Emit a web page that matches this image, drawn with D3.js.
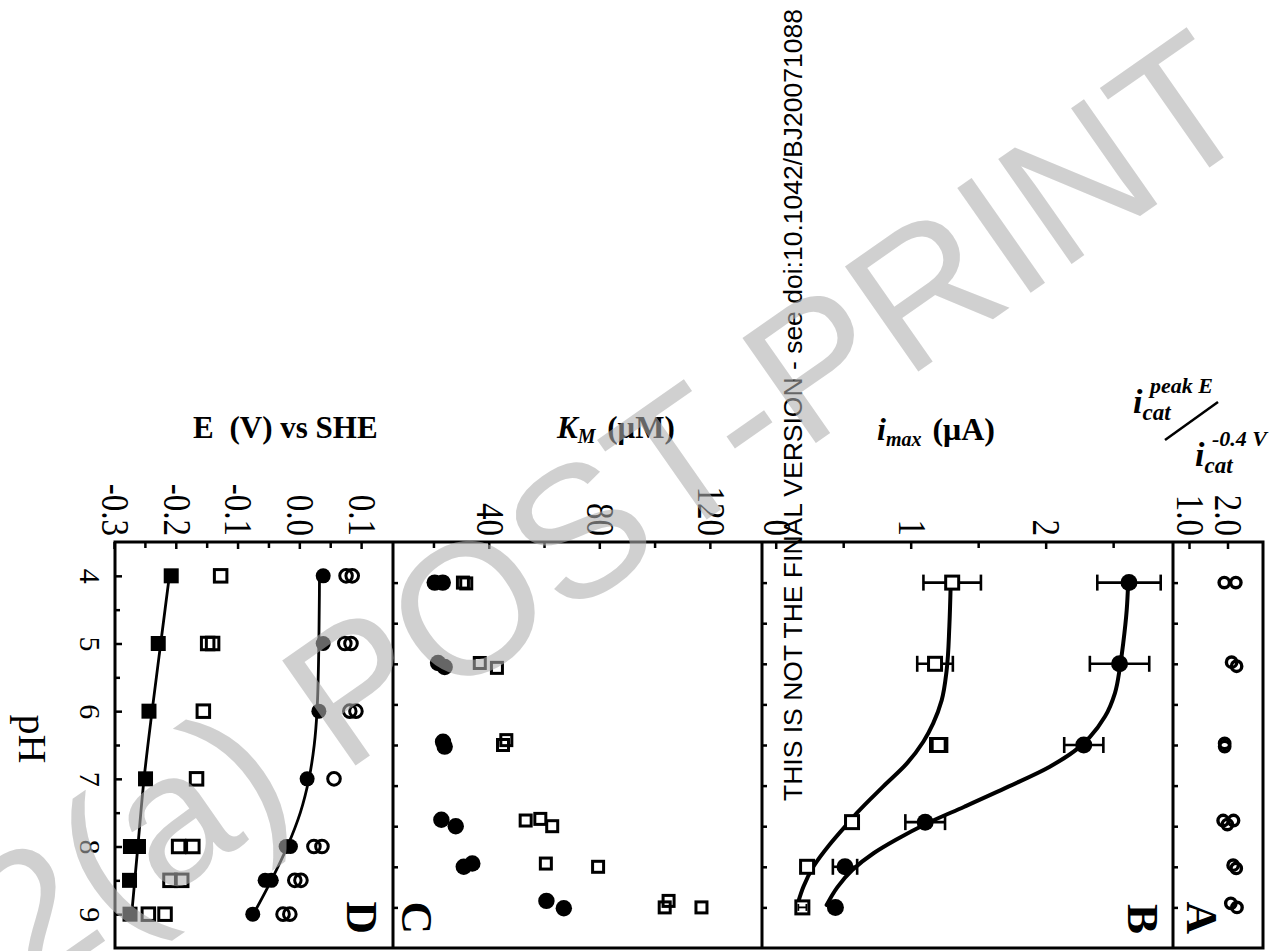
<!DOCTYPE html>
<html><head><meta charset="utf-8">
<script src="https://cdn.jsdelivr.net/npm/d3@7"></script>
<style>body{margin:0;background:#fff}svg{display:block}</style>
</head><body>
<script>
// ---------------- DATA ----------------
// Panel D : E (V) vs SHE against pH
const dCircFillPH = [4, 5, 6, 7, 8, 8, 8.5, 8.5, 9];
const dCircFillE  = [0.037, 0.037, 0.030, 0.011, -0.023, -0.016, -0.057, -0.047, -0.077];
const dCircFitPH  = [4, 5, 6, 6.5, 7, 7.5, 8, 8.5, 9];
const dCircFitE   = [0.031, 0.030, 0.027, 0.0225, 0.014, 0.0, -0.021, -0.047, -0.076];
const dCircOpenPH = [4, 4, 5, 5, 6, 6, 7, 8, 8, 8.5, 8.5, 9, 9];
const dCircOpenE  = [0.074, 0.084, 0.072, 0.082, 0.080, 0.090, 0.0545, 0.022, 0.035, -0.009, 0.001, -0.028, -0.017];
const dSqFillPH   = [4, 5, 6, 7, 8, 8, 8.5, 9];
const dSqFillE    = [-0.209, -0.230, -0.245, -0.2506, -0.275, -0.262, -0.2765, -0.2757];
const dSqFitPH    = [4, 5, 6, 7, 8, 9];
const dSqFitE     = [-0.212, -0.226, -0.240, -0.253, -0.263, -0.273];
const dSqOpenPH   = [4, 5, 5, 6, 7, 8, 8, 8.5, 8.5, 9, 9];
const dSqOpenE    = [-0.129, -0.150, -0.142, -0.157, -0.168, -0.197, -0.174, -0.211, -0.192, -0.246, -0.219];

// Panel C : K_M (uM)
const cCircPH = [4.0, 4.0, 4.99, 5.04, 5.96, 6.02, 6.92, 7.0, 7.5, 7.46, 7.92, 8.01];
const cCircK  = [20.1, 23.0, 21.3, 23.7, 23.1, 23.7, 22.5, 27.7, 30.6, 33.7, 60.5, 66.8];
const cSqPH   = [4.0, 4.01, 4.99, 5.05, 5.94, 6.0, 6.93, 6.91, 7.0, 7.46, 7.5, 7.92, 8.0, 8.0];
const cSqK    = [30.3, 31.5, 36.4, 42.6, 46.0, 44.8, 53.0, 58.3, 62.6, 60.3, 79.2, 104.7, 103.3, 116.6];

// Panel B : i_max (uA)
const bCircPH  = [4, 5, 6, 6.95, 7.5, 8];
const bCircI   = [2.61, 2.54, 2.275, 1.10, 0.506, 0.435];
const bCircErr = [0.235, 0.22, 0.145, 0.147, 0.09, 0];
const bSqPH    = [4, 5, 6, 6.95, 7.5, 8];
const bSqI     = [1.30, 1.173, 1.20, 0.558, 0.225, 0.19];
const bSqErr   = [0.213, 0.132, 0.062, 0, 0, 0.03];
const bCircFitPH = [4.0, 4.34, 4.75, 5.04, 5.36, 5.65, 5.9, 6.02, 6.27, 6.51, 6.76, 6.96, 7.17, 7.33, 7.54, 7.75, 7.97];
const bCircFitI  = [2.604, 2.593, 2.567, 2.543, 2.506, 2.432, 2.321, 2.247, 2.02, 1.72, 1.39, 1.12, 0.88, 0.72, 0.56, 0.45, 0.37];
const bSqFitPH   = [4.01, 4.54, 5.08, 5.45, 5.73, 5.96, 6.23, 6.51, 6.84, 6.95, 7.21, 7.5, 7.75, 7.93];
const bSqFitI    = [1.289, 1.279, 1.259, 1.222, 1.160, 1.086, 0.963, 0.790, 0.593, 0.535, 0.40, 0.271, 0.197, 0.160];

// Panel A : i_cat(peak E) / i_cat(-0.4 V)
const aPH = [4.0, 4.0, 4.98, 5.03, 5.98, 6.02, 6.93, 6.93, 6.98, 7.48, 7.52, 7.95, 8.0];
const aR  = [1.89, 2.19, 2.08, 2.21, 1.90, 1.90, 1.86, 2.13, 1.97, 2.12, 2.20, 2.06, 2.22];

// Ticks
const phMajorD = [4, 5, 6, 7, 8, 9];
const phMinorD = [4.5, 5.5, 6.5, 7.5, 8.5];
const phTicksU = [4, 4.5, 5, 5.5, 6, 6.5, 7, 7.5, 8];
const eMajor = [-0.3, -0.2, -0.1, 0, 0.1];
const eMinor = [-0.25, -0.15, -0.05, 0.05];
const kMajor = [40, 80, 120];
const kMinor = [20, 60, 100];
const iMajor = [0, 1, 2];
const iMinor = [0.5, 1.5, 2.5];
const rMajor = [1.0, 2.0];

// ---------------- DRAWING ----------------
const W = 1278, H = 951;
const serif = "'Liberation Serif','Times New Roman',Times,serif";
const sans = "'Liberation Sans',Arial,Helvetica,sans-serif";
const svg = d3.select("body").append("svg").attr("width", W).attr("height", H);
svg.append("rect").attr("width", W).attr("height", H).attr("fill", "#fff");

// the figure is drawn in its original orientation, then turned 90 deg clockwise
const g = svg.append("g").attr("transform", "translate(1278,0) rotate(90)");
const X0 = 542, X1 = 948;
const yA0 = 15, yAB = 105, yBC = 516, yCD = 885, yD1 = 1163;

const xD = d3.scaleLinear().domain([3.5, 9.5]).range([X0, X1]);
const xU = d3.scaleLinear().domain([3.5, 8.5]).range([X0, X1]);
const yD = d3.scaleLinear().domain([-0.3, 0.15]).range([yD1, yCD]);
const yC = d3.scaleLinear().domain([5, 138.5]).range([yCD, yBC]);
const yB = d3.scaleLinear().domain([-0.109, 2.936]).range([yBC, yAB]);
const yA = d3.scaleLinear().domain([0.558, 2.896]).range([yAB, yA0]);

function styleAxis(a) {
  a.select(".domain").remove();
  a.selectAll("line").attr("stroke", "#000").attr("stroke-width", 2.5);
  a.selectAll("text").attr("font-family", serif).attr("fill", "#000");
}
function valueAxis(scale, major, minor, fmt) {
  if (minor.length) {
    const a1 = g.append("g").attr("transform", `translate(${X0},0)`)
      .call(d3.axisLeft(scale).tickValues(minor).tickSize(-6).tickFormat(() => ""));
    styleAxis(a1);
  }
  const a2 = g.append("g").attr("transform", `translate(${X0},0)`)
    .call(d3.axisLeft(scale).tickValues(major).tickSize(-7).tickPadding(6).tickFormat(fmt));
  styleAxis(a2);
  a2.selectAll("text").attr("font-size", 33).attr("transform", "scale(1,1.2)");
}
function phAxis(scale, yPos, major, minor, labels) {
  const a1 = g.append("g").attr("transform", `translate(0,${yPos})`)
    .call(d3.axisBottom(scale).tickValues(minor).tickSize(-5).tickFormat(() => ""));
  styleAxis(a1);
  if (major) {
    const a2 = g.append("g").attr("transform", `translate(0,${yPos})`)
      .call(d3.axisBottom(scale).tickValues(major).tickSize(-7).tickPadding(14)
        .tickFormat(labels ? d => String(d) : () => ""));
    styleAxis(a2);
    a2.selectAll("text").attr("font-size", 30);
  }
}

valueAxis(yD, eMajor, eMinor, d => d.toFixed(1));
valueAxis(yC, kMajor, kMinor, d => String(d));
valueAxis(yB, iMajor, iMinor, d => String(d));
valueAxis(yA, rMajor, [], d => d.toFixed(1));
phAxis(xD, yD1, phMajorD, phMinorD, true);
phAxis(xU, yCD, null, phTicksU, false);
phAxis(xU, yBC, null, phTicksU, false);
phAxis(xU, yAB, null, phTicksU, false);

// mark helpers
function filledCircles(px, py, xs, ys, r) {
  g.append("g").selectAll("circle").data(d3.zip(px, py)).join("circle")
    .attr("cx", d => xs(d[0])).attr("cy", d => ys(d[1])).attr("r", r).attr("fill", "#000");
}
function openCircles(px, py, xs, ys, r, sw) {
  g.append("g").selectAll("circle").data(d3.zip(px, py)).join("circle")
    .attr("cx", d => xs(d[0])).attr("cy", d => ys(d[1])).attr("r", r)
    .attr("fill", "none").attr("stroke", "#000").attr("stroke-width", sw);
}
function filledSquares(px, py, xs, ys, s) {
  g.append("g").selectAll("rect").data(d3.zip(px, py)).join("rect")
    .attr("x", d => xs(d[0]) - s / 2).attr("y", d => ys(d[1]) - s / 2)
    .attr("width", s).attr("height", s).attr("fill", "#000");
}
function openSquares(px, py, xs, ys, s, sw, fill) {
  g.append("g").selectAll("rect").data(d3.zip(px, py)).join("rect")
    .attr("x", d => xs(d[0]) - s / 2).attr("y", d => ys(d[1]) - s / 2)
    .attr("width", s).attr("height", s).attr("fill", fill || "none")
    .attr("stroke", "#000").attr("stroke-width", sw);
}
function fitLine(px, py, xs, ys, sw) {
  const line = d3.line().x(d => xs(d[0])).y(d => ys(d[1])).curve(d3.curveMonotoneX);
  g.append("path").attr("d", line(d3.zip(px, py))).attr("fill", "none")
    .attr("stroke", "#000").attr("stroke-width", sw).attr("stroke-linecap", "round");
}
function errorBars(px, py, pe, xs, ys, cap, sw) {
  const eg = g.append("g").attr("stroke", "#000").attr("stroke-width", sw);
  d3.zip(px, py, pe).filter(d => d[2] > 0).forEach(d => {
    const x = xs(d[0]), lo = ys(d[1] - d[2]), hi = ys(d[1] + d[2]);
    eg.append("line").attr("x1", x).attr("x2", x).attr("y1", lo).attr("y2", hi);
    eg.append("line").attr("x1", x - cap).attr("x2", x + cap).attr("y1", lo).attr("y2", lo);
    eg.append("line").attr("x1", x - cap).attr("x2", x + cap).attr("y1", hi).attr("y2", hi);
  });
}

// Panel D
fitLine(dCircFitPH, dCircFitE, xD, yD, 2.8);
fitLine(dSqFitPH, dSqFitE, xD, yD, 2.8);
filledCircles(dCircFillPH, dCircFillE, xD, yD, 7.5);
openCircles(dCircOpenPH, dCircOpenE, xD, yD, 6.3, 3);
filledSquares(dSqFillPH, dSqFillE, xD, yD, 15);
openSquares(dSqOpenPH, dSqOpenE, xD, yD, 12.5, 3);

// Panel C
filledCircles(cCircPH, cCircK, xU, yC, 8.2);
openSquares(cSqPH, cSqK, xU, yC, 11, 3);

// Panel B
fitLine(bCircFitPH, bCircFitI, xU, yB, 4);
fitLine(bSqFitPH, bSqFitI, xU, yB, 4);
errorBars(bCircPH, bCircI, bCircErr, xU, yB, 8, 2.6);
errorBars(bSqPH.slice(0, 5), bSqI.slice(0, 5), bSqErr.slice(0, 5), xU, yB, 8, 2.6);
filledCircles(bCircPH, bCircI, xU, yB, 8.5);
openSquares(bSqPH, bSqI, xU, yB, 13, 3, "#fff");
// the last error bar is smaller than its square marker
errorBars(bSqPH.slice(5), bSqI.slice(5), bSqErr.slice(5), xU, yB, 3.5, 1.8);

// Panel A
openCircles(aPH, aR, xU, yA, 5.2, 3.4);

// frame
g.append("rect").attr("x", X0).attr("y", yA0).attr("width", X1 - X0).attr("height", yD1 - yA0)
  .attr("fill", "none").attr("stroke", "#000").attr("stroke-width", 3);
[yAB, yBC, yCD].forEach(y => g.append("line").attr("x1", X0).attr("x2", X1)
  .attr("y1", y).attr("y2", y).attr("stroke", "#000").attr("stroke-width", 3));

// panel letters
const letters = [["D", 931], ["C", 876], ["B", 150], ["A", 91]];
letters.forEach(([t, y]) => g.append("text").attr("x", 934).attr("y", y)
  .attr("text-anchor", "end").attr("font-family", serif).attr("font-weight", "bold")
  .attr("font-size", 45).text(t));

// pH title
g.append("text").attr("x", 739).attr("y", 1259).attr("text-anchor", "middle")
  .attr("font-family", serif).attr("font-size", 40).text("pH");

// ---- axis titles (screen orientation) ----
const tE = svg.append("text").attr("x", 193).attr("y", 438).attr("font-family", serif)
  .attr("font-weight", "bold").attr("font-size", 31);
tE.append("tspan").text("E");
tE.append("tspan").attr("dx", 8).text(" (V) vs SHE");

const tK = svg.append("text").attr("x", 557).attr("y", 438).attr("font-family", serif)
  .attr("font-weight", "bold").attr("font-size", 31);
tK.append("tspan").attr("font-style", "italic").text("K");
tK.append("tspan").attr("font-style", "italic").attr("font-size", 20).attr("dy", 5).text("M");
tK.append("tspan").attr("dy", -5).attr("dx", 4).text(" (μM)");

const tI = svg.append("text").attr("x", 877).attr("y", 440).attr("font-family", serif)
  .attr("font-weight", "bold").attr("font-size", 32);
tI.append("tspan").attr("font-style", "italic").text("i");
tI.append("tspan").attr("font-style", "italic").attr("font-size", 20).attr("dy", 6).text("max");
tI.append("tspan").attr("dy", -6).attr("dx", 3).text(" (μA)");

// fraction label for panel A
function icat(x, y, sup) {
  const t = svg.append("text").attr("x", x).attr("y", y).attr("font-family", serif)
    .attr("font-weight", "bold").attr("font-style", "italic").attr("font-size", 34);
  t.append("tspan").text("i");
  t.append("tspan").attr("font-size", 23).attr("dy", 7).text("cat");
  svg.append("text").attr("x", x + 17).attr("y", y - 20).attr("font-family", serif)
    .attr("font-weight", "bold").attr("font-style", "italic").attr("font-size", 22).text(sup);
}
icat(1133, 413, "peak E");
icat(1195, 466, "-0.4 V");
svg.append("line").attr("x1", 1165).attr("y1", 440).attr("x2", 1218).attr("y2", 402)
  .attr("stroke", "#000").attr("stroke-width", 2.5);

// vertical notice
svg.append("text").attr("transform", "translate(802,801) rotate(-90)")
  .attr("font-family", sans).attr("font-size", 26.5).attr("fill", "#000")
  .text("THIS IS NOT THE FINAL VERSION - see doi:10.1042/BJ20071088");

// watermark on top (semi-transparent grey)
svg.append("text").attr("transform", "translate(27.5,995.1) rotate(-35)")
  .attr("text-anchor", "start").attr("font-family", sans).attr("font-size", 186)
  .attr("textLength", 1509).attr("lengthAdjust", "spacingAndGlyphs")
  .attr("fill", "rgb(175,175,175)").attr("fill-opacity", 0.585)
  .text("2(a) POST-PRINT");
</script>
</body></html>
